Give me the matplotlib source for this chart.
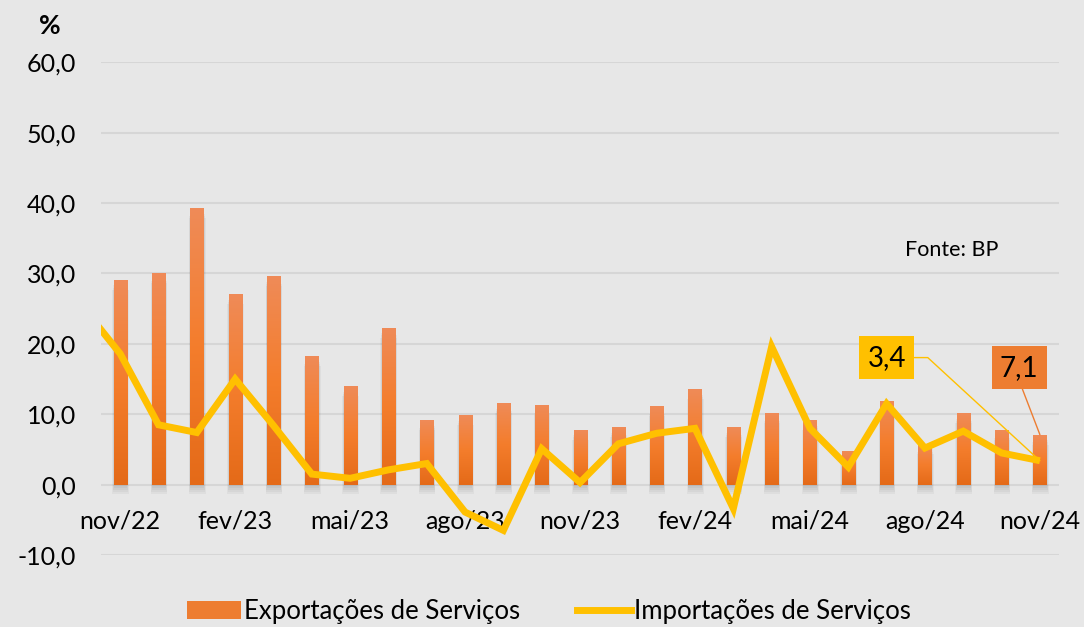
import numpy as np
import matplotlib
matplotlib.use("Agg")
import matplotlib.pyplot as plt
from matplotlib.colors import LinearSegmentedColormap
from matplotlib.patches import Patch
from matplotlib.lines import Line2D

plt.rcParams['font.family'] = ['Lato', 'DejaVu Sans']

# months (out/22 only feeds the line entering from the left edge)
months = ['out/22', 'nov/22', 'dez/22', 'jan/23', 'fev/23', 'mar/23', 'abr/23', 'mai/23',
          'jun/23', 'jul/23', 'ago/23', 'set/23', 'out/23', 'nov/23', 'dez/23',
          'jan/24', 'fev/24', 'mar/24', 'abr/24', 'mai/24', 'jun/24', 'jul/24',
          'ago/24', 'set/24', 'out/24', 'nov/24']
exportacoes = [np.nan, 29.1, 30.0, 39.3, 27.0, 29.6, 18.2, 14.0, 22.3, 9.2, 9.9,
               11.6, 11.3, 7.8, 8.1, 11.2, 13.6, 8.2, 10.1, 9.2, 4.8, 11.9,
               5.8, 10.1, 7.7, 7.1]
importacoes = [25.4, 18.6, 8.5, 7.4, 15.0, 8.4, 1.5, 0.9, 2.1, 3.0, -3.9,
               -6.5, 5.1, 0.3, 5.8, 7.3, 8.0, -3.4, 19.6, 8.0, 2.5, 11.5,
               5.2, 7.6, 4.5, 3.4]
yticks = [-10, 0, 10, 20, 30, 40, 50, 60]
tick_months = ['nov/22', 'fev/23', 'mai/23', 'ago/23', 'nov/23', 'fev/24',
               'mai/24', 'ago/24', 'nov/24']

bg = '#E7E7E7'
orange = '#ED7D31'
yellow = '#FFC000'

x = np.arange(len(months)) - 1  # nov/22 at 0

fig = plt.figure(figsize=(10.84, 6.27), dpi=100, facecolor=bg)
ax = fig.add_axes([0.0932, 0.1148, 0.8838, 0.7858])
ax.set_facecolor(bg)

w = 0.34
cmap = LinearSegmentedColormap.from_list('bar', ['#E46A18', '#F47D2C', '#EF8B58'])
grad = np.linspace(0, 1, 256).reshape(-1, 1)
for xi, v in zip(x, exportacoes):
    if np.isnan(v):
        continue
    # soft shadow under the bar
    for k in range(4):
        ax.bar(xi + 0.01, v, width=w + 0.02 + 0.025 * k, bottom=-0.5 - 0.3 * k,
               color='#000000', alpha=0.035, zorder=2, linewidth=0)
    ax.imshow(grad, extent=[xi - w / 2, xi + w / 2, 0, v], origin='lower',
              cmap=cmap, aspect='auto', zorder=3)

ax.plot(x, importacoes, color=yellow, lw=5, solid_joinstyle='miter',
        solid_capstyle='butt', zorder=4)

ax.set_xlim(-0.5, 24.5)
ax.set_ylim(-10, 60)
ax.set_aspect('auto')

ax.set_yticks(yticks)
ax.set_yticklabels([f'{t:.1f}'.replace('.', ',') for t in yticks], fontsize=18)
ax.yaxis.grid(True, color='#D6D6D6', lw=1.5)
ax.set_axisbelow(True)
for s in ax.spines.values():
    s.set_visible(False)
ax.spines['bottom'].set_position(('data', 0))
tpos = [months.index(m) - 1 for m in tick_months]
ax.set_xticks(tpos)
ax.set_xticklabels(tick_months, fontsize=18)
ax.tick_params(axis='x', length=0, pad=18)
ax.tick_params(axis='y', length=0, pad=18)

# data labels for the last month
n = len(months) - 1
ax.annotate(f'{importacoes[n]:.1f}'.replace('.', ','), xy=(x[n], importacoes[n]),
            xytext=(20.0, 18.05), fontsize=20, ha='center', va='center',
            bbox=dict(boxstyle='square,pad=0.3', fc=yellow, ec='none'),
            arrowprops=dict(arrowstyle='-', color=yellow, lw=1, relpos=(1, 0.5),
                            shrinkA=0, shrinkB=0,
                            connectionstyle='angle,angleA=0,angleB=137.4,rad=0'),
            zorder=6)
ax.annotate(f'{exportacoes[n]:.1f}'.replace('.', ','), xy=(x[n], exportacoes[n]),
            xytext=(23.46, 16.6), fontsize=20, ha='center', va='center',
            bbox=dict(boxstyle='square,pad=0.3', fc=orange, ec='none'),
            arrowprops=dict(arrowstyle='-', color=orange, lw=1, relpos=(0.5, 0),
                            shrinkA=0, shrinkB=0),
            zorder=6)

fig.text(50 / 1084, 1 - 26 / 627, '%', fontsize=19, fontweight='bold',
         ha='center', va='center')
fig.text(952 / 1084, 1 - 250 / 627, 'Fonte: BP', fontsize=15.5,
         ha='center', va='center')

handles = [Patch(facecolor=orange, edgecolor='none'),
           Line2D([0], [0], color=yellow, lw=5)]
fig.legend(handles, ['Exportações de Serviços', 'Importações de Serviços'],
           loc='center', bbox_to_anchor=(549 / 1084, 1 - 611 / 627), ncol=2,
           frameon=False, fontsize=18.5, handlelength=2.1, handleheight=0.7,
           handletextpad=0.12, columnspacing=2.2)

fig.savefig('out.png', dpi=100, facecolor=bg)
